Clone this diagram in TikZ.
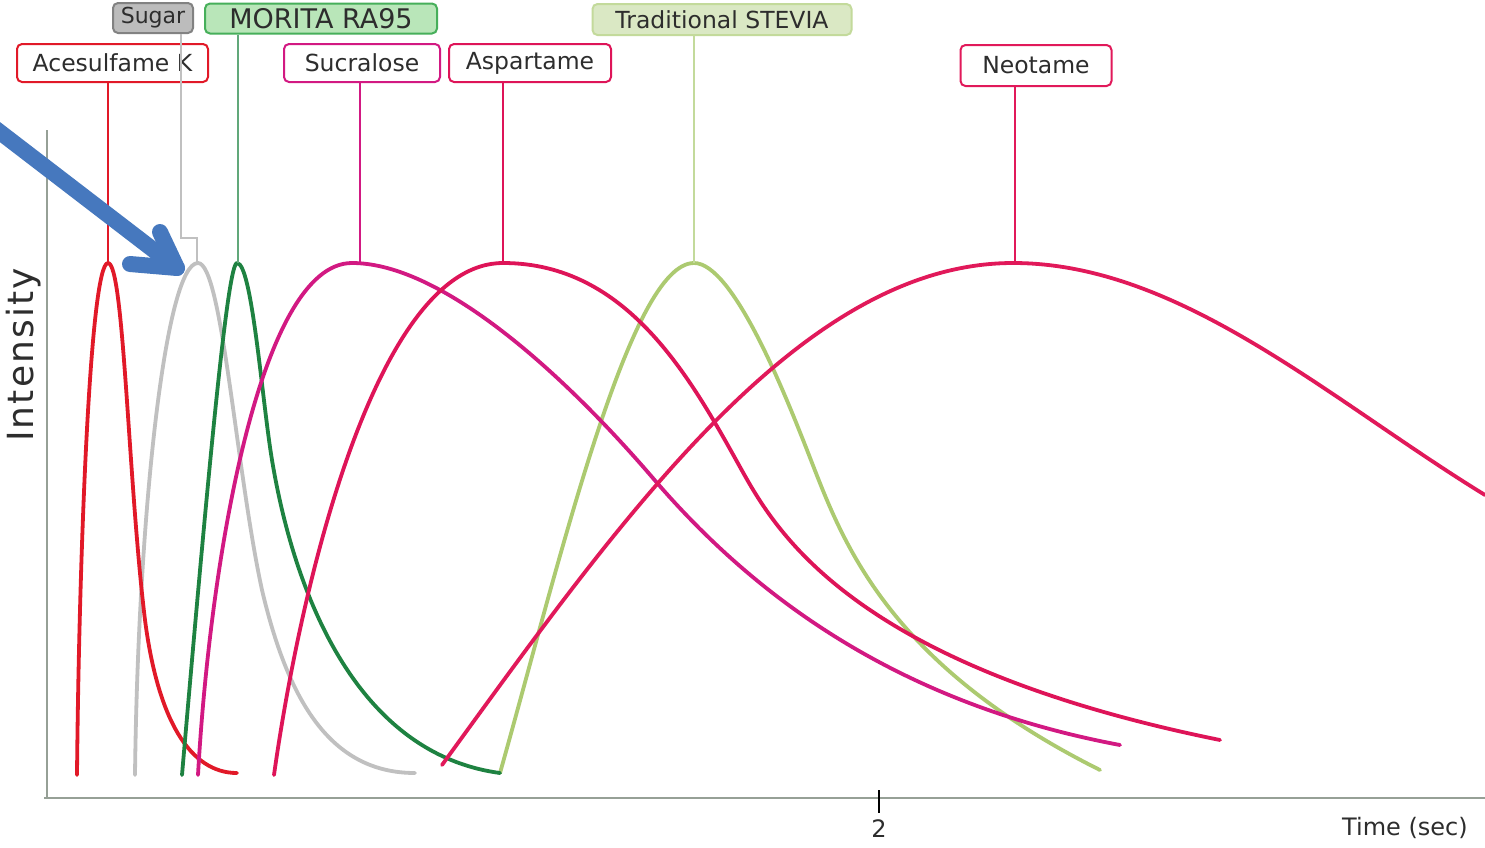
\documentclass[tikz,border=0pt]{standalone}
\usepackage{fontspec}
\setmainfont{DejaVu Sans}
\newfontfamily\spacedfont[LetterSpace=6]{DejaVu Sans}
\usetikzlibrary{arrows.meta}
\definecolor{acered}{RGB}{225,25,40}
\definecolor{sugargray}{RGB}{192,192,192}
\definecolor{sugarbox}{RGB}{188,188,188}
\definecolor{sugarline}{RGB}{130,130,130}
\definecolor{moritagreen}{RGB}{30,130,65}
\definecolor{moritafill}{RGB}{185,230,185}
\definecolor{moritaline}{RGB}{70,175,90}
\definecolor{sucmag}{RGB}{210,25,130}
\definecolor{aspcrim}{RGB}{222,20,88}
\definecolor{stevgreen}{RGB}{172,202,112}
\definecolor{stevfill}{RGB}{218,232,196}
\definecolor{stevline}{RGB}{195,218,155}
\definecolor{neocrim}{RGB}{225,25,90}
\definecolor{arrowblue}{RGB}{70,120,190}
\definecolor{axisgray}{RGB}{150,160,150}
\definecolor{txt}{RGB}{45,45,45}
\begin{document}
\begin{tikzpicture}[x=1pt,y=-1pt,
  lbl/.style={rounded corners=5pt, line width=2pt, fill=white, inner sep=0pt,
    text=txt, font=\fontsize{23.5}{28}\selectfont},
  curve/.style={line width=3.8pt, line cap=round, line join=round},
  lead/.style={line width=1.8pt},
  axisline/.style={line width=2pt, draw=axisgray}]
\useasboundingbox (0,0) rectangle (1485,847);
\fill[white] (0,0) rectangle (1485,847);

% axes
\coordinate (ytop) at (47,130);
\coordinate (origin) at (47,798);
\coordinate (xleft) at (44,798);
\coordinate (xend) at (1485,798);
\draw[axisline] (ytop) -- (origin);
\draw[axisline] (xleft) -- (xend);
\coordinate (tickt) at (879,790);
\coordinate (tickb) at (879,813);
\draw[line width=2pt, black] (tickt) -- (tickb);
\node[text=txt, font=\fontsize{24}{28}\selectfont] (two) at (879,829) {2};
\node[text=txt, font=\fontsize{24}{28}\selectfont] (tlab) at (1405,828) {Time (sec)};
\node[text=txt, rotate=90, font=\spacedfont\fontsize{36}{40}\selectfont] (ylab) at (24,355) {Intensity};

% peaks
\coordinate (acepk) at (108,263);
\coordinate (sugpk) at (197,263);
\coordinate (morpk) at (238,263);
\coordinate (sucpk) at (360,263);
\coordinate (asppk) at (503,263);
\coordinate (stepk) at (694,263);
\coordinate (neopk) at (1015,263);

% curves
\draw[curve, sugargray] (135,775) .. controls (138,520) and (165,263) .. (198,263)
  .. controls (222,263) and (236,470) .. (262,590)
  .. controls (288,700) and (330,773) .. (415,773);
\draw[curve, stevgreen] (500,773) .. controls (560,560) and (630,263) .. (694,263)
  .. controls (733,263) and (785,394) .. (807,450)
  .. controls (840,534) and (880,660) .. (1100,770);
\draw[curve, acered] (77,775) .. controls (79,560) and (90,263) .. (108,263)
  .. controls (124,263) and (128,480) .. (145,620)
  .. controls (158,720) and (190,773) .. (237,773);
\draw[curve, moritagreen] (182,775) .. controls (210,450) and (228,263) .. (237,263)
  .. controls (252,263) and (262,400) .. (272,460)
  .. controls (284,532) and (330,750) .. (500,773);
\draw[curve, sucmag] (198,775) .. controls (210,560) and (260,263) .. (352,263)
  .. controls (440,263) and (560,370) .. (652,477)
  .. controls (740,580) and (880,700) .. (1120,745);
\draw[curve, aspcrim] (274,775) .. controls (300,590) and (375,263) .. (503,263)
  .. controls (627,263) and (690,377) .. (740,467)
  .. controls (775,530) and (850,665) .. (1220,740);
\draw[curve, neocrim] (442,765) .. controls (620,520) and (800,263) .. (1013,263)
  .. controls (1180,263) and (1330,400) .. (1485,495);

% labels
\node[lbl, draw=acered, minimum width=191pt, minimum height=38pt] (ace) at (112.5,63) {Acesulfame K};
\node[lbl, draw=sugarline, fill=sugarbox, minimum width=80pt, minimum height=30pt,
  font=\fontsize{22}{26}\selectfont] (sug) at (153,18) {Sugar};
\node[lbl, draw=moritaline, fill=moritafill, minimum width=232pt, minimum height=30pt,
  font=\fontsize{27}{30}\selectfont] (mor) at (321,18.5) {MORITA RA95};
\node[lbl, draw=sucmag, minimum width=156pt, minimum height=38pt] (suc) at (362,63) {Sucralose};
\node[lbl, draw=aspcrim, minimum width=162pt, minimum height=38pt] (asp) at (530,63) {Aspartame};
\node[lbl, draw=stevline, fill=stevfill, minimum width=259pt, minimum height=31pt] (ste) at (722,19.5) {Traditional STEVIA};
\node[lbl, draw=neocrim, minimum width=151pt, minimum height=41pt] (neo) at (1036,65.5) {Neotame};

% leaders
\coordinate (sugbend) at (181,238);
\draw[lead, acered] (ace.south -| acepk) -- (acepk);
\draw[lead, sugargray] (sug.south -| sugbend) -- (sugbend) -| (sugpk);
\draw[lead, moritagreen!70] (mor.south -| morpk) -- (morpk);
\draw[lead, sucmag] (suc.south -| sucpk) -- (sucpk);
\draw[lead, aspcrim] (asp.south -| asppk) -- (asppk);
\draw[lead, stevline] (ste.south -| stepk) -- (stepk);
\draw[lead, neocrim] (neo.south -| neopk) -- (neopk);

% blue arrow
\coordinate (arrs) at (-8,126);
\coordinate (arrt) at (177,268);
\coordinate (wing1) at (160,232);
\coordinate (wing2) at (130,264);
\draw[line width=16pt, arrowblue, line cap=round, line join=round] (arrs) -- (arrt);
\draw[line width=16pt, arrowblue, line cap=round, line join=round] (wing1) -- (arrt) -- (wing2);
\end{tikzpicture}
\end{document}
